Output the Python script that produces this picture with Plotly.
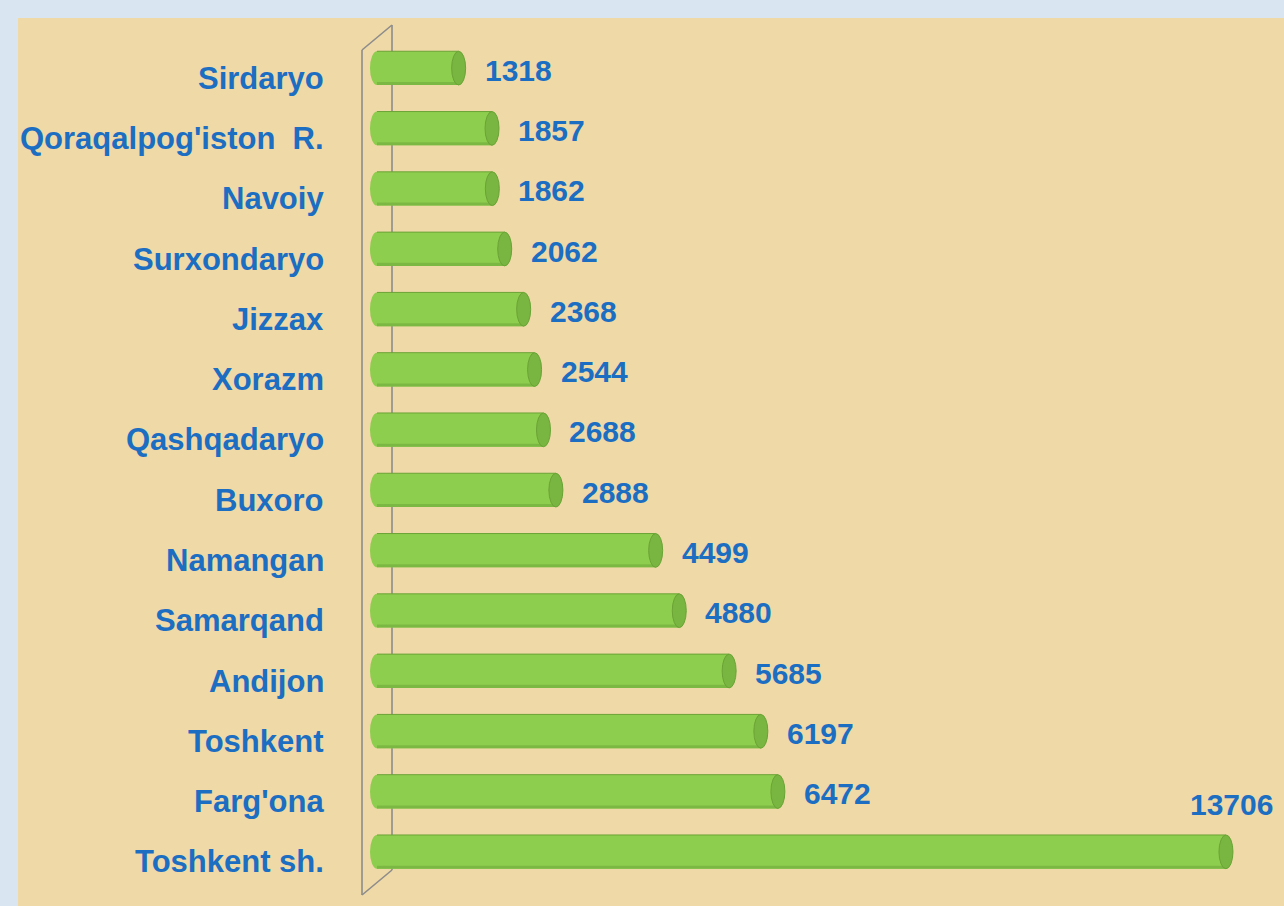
import plotly.graph_objects as go

regions = ["Sirdaryo", "Qoraqalpog'iston  R.", "Navoiy", "Surxondaryo", "Jizzax", "Xorazm",
           "Qashqadaryo", "Buxoro", "Namangan", "Samarqand", "Andijon", "Toshkent",
           "Farg'ona", "Toshkent sh."]
values = [1318, 1857, 1862, 2062, 2368, 2544, 2688, 2888, 4499, 4880, 5685, 6197, 6472, 13706]

W_PX, H_PX = 1284, 906
L, R, T, B = 362, 14, 38, 24
PW, PH = W_PX - L - R, H_PX - T - B
X_MIN, X_MAX = -242, 14417
SCALE = PW / (X_MAX - X_MIN)
CAP = 7 / SCALE
BAR_W = 0.56

BLUE = "#1B6EC2"
GREEN = "#8ECE4E"
GREEN_EDGE = "#6BA336"
GREEN_DARK = "#7BB843"
GREEN_CAP = "#78B541"
FONT = "Liberation Sans, Arial, sans-serif"


def px(xp):
    return (xp - L) / PW


def py(yp):
    return 1 - (yp - T) / PH


idx = list(range(len(regions)))

fig = go.Figure()
fig.add_trace(go.Bar(
    y=idx, x=values, orientation="h", width=BAR_W,
    marker=dict(color=GREEN, line=dict(width=0)),
    hoverinfo="x+text", hovertext=regions, showlegend=False,
))

shapes = []
# background frame and parchment
shapes.append(dict(type="rect", xref="paper", yref="paper", layer="below",
                   x0=px(18), x1=px(W_PX + 5), y0=py(H_PX + 5), y1=py(18),
                   fillcolor="#EFD9A6", line=dict(width=0)))
# 3D wall
wall = dict(color="#8C8C8C", width=1.6)
for (x0, y0, x1, y1) in [(392, 25, 392, 870), (362, 50, 362, 895), (362, 50, 392, 25), (362, 895, 392, 870)]:
    shapes.append(dict(type="line", xref="paper", yref="paper", layer="below",
                       x0=px(x0), y0=py(y0), x1=px(x1), y1=py(y1), line=wall))
# rounded left ends, shading and caps of cylinders
for i, v in zip(idx, values):
    shapes.append(dict(type="circle", xref="x", yref="y", layer="below",
                       x0=-CAP, x1=CAP, y0=i - BAR_W / 2, y1=i + BAR_W / 2,
                       fillcolor=GREEN, line=dict(width=0)))
    shapes.append(dict(type="rect", xref="x", yref="y", layer="above",
                       x0=0, x1=v, y0=i + BAR_W / 2 - 0.05, y1=i + BAR_W / 2,
                       fillcolor=GREEN_DARK, line=dict(width=0)))
    shapes.append(dict(type="line", xref="x", yref="y", layer="above",
                       x0=0, x1=v, y0=i - BAR_W / 2, y1=i - BAR_W / 2,
                       line=dict(color=GREEN_EDGE, width=1)))
    shapes.append(dict(type="circle", xref="x", yref="y", layer="above",
                       x0=v - CAP, x1=v + CAP, y0=i - BAR_W / 2, y1=i + BAR_W / 2,
                       fillcolor=GREEN_CAP, line=dict(color=GREEN_EDGE, width=1)))

annotations = []
for i, (name, v) in enumerate(zip(regions, values)):
    annotations.append(dict(
        xref="paper", yref="y", x=0, y=i, xanchor="right", yanchor="middle",
        xshift=-36, yshift=-10, text=f"<b>{name}</b>", showarrow=False,
        font=dict(family=FONT, size=31, color=BLUE)))
    if i == len(values) - 1:
        annotations.append(dict(
            xref="x", yref="y", x=v, y=i, xanchor="center", yanchor="middle",
            xshift=6, yshift=47, text=f"<b>{v}</b>", showarrow=False,
            font=dict(family=FONT, size=30, color=BLUE)))
    else:
        annotations.append(dict(
            xref="x", yref="y", x=v, y=i, xanchor="left", yanchor="middle",
            xshift=24, yshift=-2, text=f"<b>{v}</b>", showarrow=False,
            font=dict(family=FONT, size=30, color=BLUE)))

fig.update_layout(
    width=W_PX, height=H_PX,
    margin=dict(l=L, r=R, t=T, b=B, pad=0),
    paper_bgcolor="#D9E6F2", plot_bgcolor="rgba(0,0,0,0)",
    shapes=shapes, annotations=annotations,
    xaxis=dict(range=[X_MIN, X_MAX], visible=False, showgrid=False, zeroline=False),
    yaxis=dict(range=[len(regions) - 0.5, -0.5], visible=False, showgrid=False, zeroline=False),
    bargap=0.44, showlegend=False,
)

fig.write_html("out.html", config={"displayModeBar": False},
               post_script="document.body.style.margin='0';document.body.style.overflow='hidden';")
